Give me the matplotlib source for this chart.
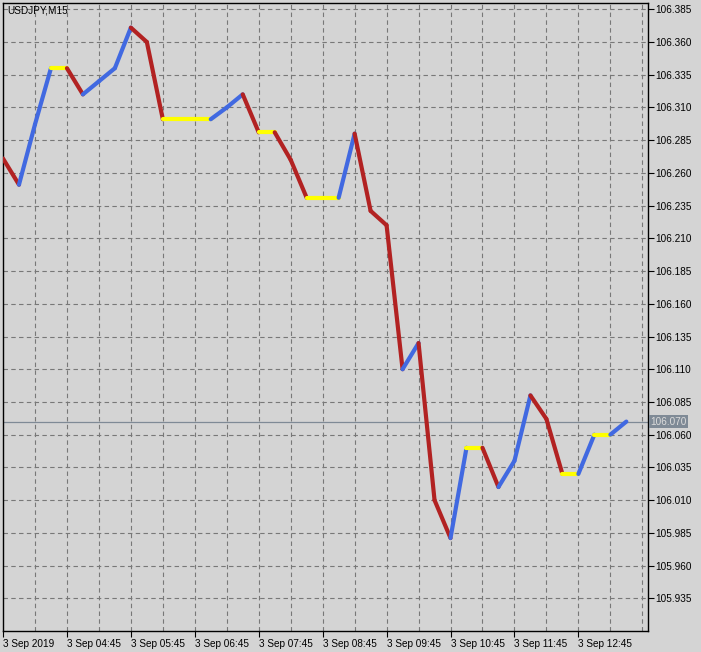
import matplotlib
matplotlib.use("Agg")
import matplotlib.pyplot as plt

# USDJPY M15 closes, 3 Sep 2019 from 03:45 (one value per bar)
closes = [106.271, 106.251, 106.297, 106.340, 106.340, 106.320, 106.330, 106.340,
          106.371, 106.360, 106.301, 106.301, 106.301, 106.301, 106.310, 106.320,
          106.291, 106.291, 106.270, 106.241, 106.241, 106.241, 106.290, 106.231,
          106.220, 106.110, 106.130, 106.010, 105.981, 106.050, 106.050, 106.020,
          106.040, 106.090, 106.072, 106.030, 106.030, 106.060, 106.060, 106.070]
x_labels = ["3 Sep 2019", "3 Sep 04:45", "3 Sep 05:45", "3 Sep 06:45", "3 Sep 07:45",
            "3 Sep 08:45", "3 Sep 09:45", "3 Sep 10:45", "3 Sep 11:45", "3 Sep 12:45"]
y_ticks = [105.935, 105.960, 105.985, 106.010, 106.035, 106.060, 106.085,
           106.110, 106.135, 106.160, 106.185, 106.210, 106.235, 106.260,
           106.285, 106.310, 106.335, 106.360, 106.385]
last_price = 106.070
symbol = "USDJPY,M15"

BG = "#d4d4d4"
UP, DOWN, FLAT = "#4169e1", "#b22222", "#ffff00"
FONT = "Liberation Sans"
FS = 7.2

W, H = 701, 652
fig = plt.figure(figsize=(W / 100, H / 100), dpi=100, facecolor=BG)
# plot area in pixels: x 3..648, y 2.5..631
ax = fig.add_axes([3 / W, (H - 631) / H, 645 / W, 628.5 / H], facecolor=BG)

# bar k sits at pixel 2.3 + 16k
ax.set_xlim((3 - 2.3) / 16, (648 - 2.3) / 16)
ax.set_ylim(105.910, 106.3902)

# grid
for k in range(2, 41, 2):
    ax.axvline(k, color="#787878", lw=0.8, ls=(0, (4, 3)), zorder=1)
for p in y_ticks:
    ax.axhline(p, color="#787878", lw=0.8, ls=(0, (4, 3)), zorder=1)

# current price line
ax.axhline(last_price, color="#7f8a96", lw=0.9, zorder=2)

# coloured line segments
for i in range(1, len(closes)):
    a, b = closes[i - 1], closes[i]
    c = UP if b > a else DOWN if b < a else FLAT
    ax.plot([i - 1, i], [a, b], color=c, lw=3.0, solid_capstyle="round",
            solid_joinstyle="round", zorder=3)

for s in ax.spines.values():
    s.set_color("black")
    s.set_linewidth(1.0)

ax.set_xticks(range(0, len(closes), 4))
ax.set_xticklabels(x_labels, ha="left", family=FONT, fontsize=FS)
ax.tick_params(axis="x", direction="out", length=4, width=0.8, pad=1.5)

ax.yaxis.tick_right()
ax.set_yticks(y_ticks)
ax.set_yticklabels([f"{p:.3f}" for p in y_ticks], family=FONT, fontsize=FS)
ax.tick_params(axis="y", direction="out", length=4, width=0.8, pad=1.0)

ax.text(1.004, last_price, f"{last_price:.3f}", transform=ax.get_yaxis_transform(),
        va="center", ha="left", family=FONT, fontsize=FS, color="#dcdcdc",
        bbox=dict(boxstyle="square,pad=0.15", fc="#7f8a96", ec="none"), zorder=5,
        clip_on=False)

ax.text(4 / 645, 1 - 8 / 628.5, symbol, transform=ax.transAxes, va="center",
        ha="left", family=FONT, fontsize=FS, color="black")

fig.savefig("out.png", dpi=100, facecolor=BG)
